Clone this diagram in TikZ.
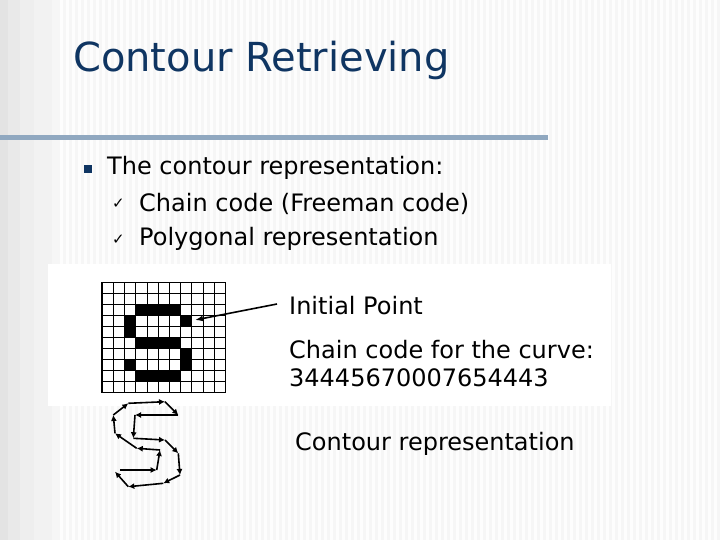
\documentclass[tikz,border=0pt]{standalone}
\usepackage{fontspec}
\setmainfont{DejaVu Sans}
\usetikzlibrary{arrows.meta}
\definecolor{titleblue}{HTML}{0F3562}
\definecolor{barblue}{HTML}{90A8C0}
\tikzset{
  lbl/.style={anchor=west,inner sep=0pt,font=\fontsize{24}{28}\selectfont},
  cedge/.style={line width=1.6pt,-{Latex[length=6pt,width=6pt]}},
}
\begin{document}
\begin{tikzpicture}[x=1pt,y=-1pt]
\useasboundingbox (0,0) rectangle (720,540);
\fill[gray!7] (0,0) rectangle (720,540);
\foreach \x in {60,66,...,716} {\fill[white!60!gray!4] (\x,0) rectangle (\x+3,540);}
\fill[gray!22] (0,0) rectangle (8,540);
\fill[gray!17] (8,0) rectangle (20,540);
\fill[gray!13] (20,0) rectangle (34,540);
\fill[gray!10] (34,0) rectangle (52,540);
\fill[barblue] (0,135.5) rectangle (548,140.5);
\node[anchor=west,inner sep=0pt,text=titleblue,font=\fontsize{40}{46}\selectfont] (title) at (73,60) {Contour Retrieving};
\node[fill=titleblue,minimum size=8pt,inner sep=0pt] (bul) at (88,169) {};
\node[lbl] (t1) at (107,168) {The contour representation:};
\node[lbl,font=\fontsize{15}{18}\selectfont] (c1) at (112,204) {✓};
\node[lbl,font=\fontsize{15}{18}\selectfont] (c2) at (112,240) {✓};
\node[lbl] (t2) at (139,204) {Chain code (Freeman code)};
\node[lbl] (t3) at (139,239) {Polygonal representation};
\fill[white] (48,264) rectangle (611,406);
% grid
\foreach \c/\r in {3/2,4/2,5/2,6/2,2/3,7/3,2/4,3/5,4/5,5/5,6/5,7/6,2/7,7/7,3/8,4/8,5/8,6/8}
  {\fill[black] (102+\c*11.2,282.5+\r*11) rectangle (102+\c*11.2+11.2,282.5+\r*11+11);}
\foreach \c in {0,...,11} {\draw[line width=0.6pt] (102+\c*11.2,282.5) -- (102+\c*11.2,392.5);}
\foreach \r in {0,...,10} {\draw[line width=0.6pt] (102,282.5+\r*11) -- (225.2,282.5+\r*11);}
\draw[line width=1.3pt] (102,326.5) -- (225.2,326.5);
\draw[line width=1.3pt] (102,370.5) -- (225.2,370.5);
\draw[line width=1.3pt] (102,282.5) rectangle (225.2,392.5);
\coordinate (ip) at (195,320);
\node[lbl] (init) at (289,306) {Initial Point};
\draw[line width=1.6pt,-{Latex[length=8pt,width=6pt]}] (init.west) ++(-12,-2) -- (ip);
\node[lbl] (cc1) at (289,350) {Chain code for the curve:};
\node[lbl] (cc2) at (289,378) {34445670007654443};
\node[lbl] (cr) at (295,444) {Contour representation};
% contour
\foreach \n/\p in {A/{178.3,415},B/{135,415},C/{133.3,438.3},D/{165,440},E/{178.3,453.3},F/{180,475},G/{163.3,483.3},H/{128.3,486.7},I/{115,471.7},J/{120,470},K/{156.7,470},L/{160,450},M/{136.7,448.3},N/{115,433.3},O/{113.3,415},P/{128.3,403.3},Q/{165,401.7}}
  {\coordinate (\n) at (\p);}
\foreach \a/\b in {A/B,B/C,C/D,D/E,E/F,F/G,G/H,H/I,J/K,K/L,L/M,M/N,N/O,O/P,P/Q,Q/A}
  {\draw[cedge] (\a) -- (\b);}
\end{tikzpicture}
\end{document}
